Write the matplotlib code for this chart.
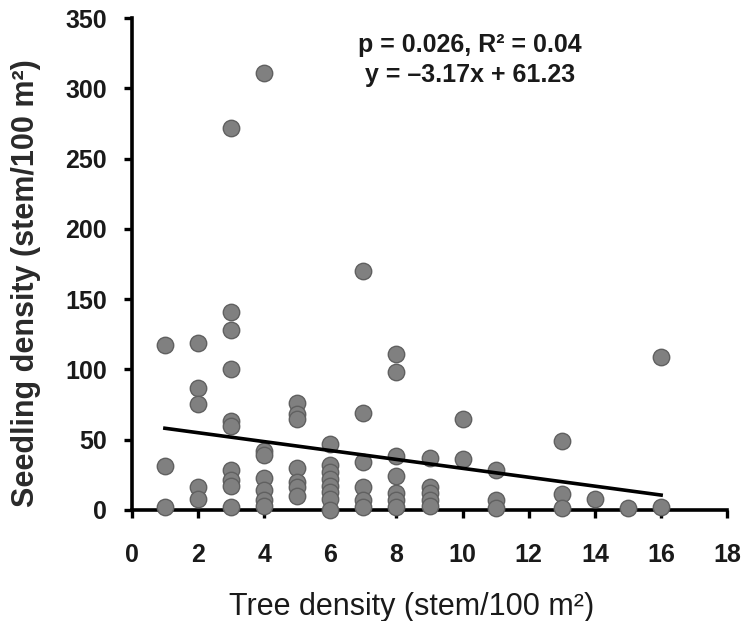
"""Seedling density against tree density, with a linear fit."""

import matplotlib

matplotlib.use("Agg")
import matplotlib.pyplot as plt  # noqa: E402
import numpy as np  # noqa: E402

# tree density (stem/100 m2) and seedling density (stem/100 m2)
tree_density = [
    1, 1, 1,
    2, 2, 2, 2, 2,
    3, 3, 3, 3, 3, 3, 3, 3, 3, 3,
    4, 4, 4, 4, 4, 4, 4,
    5, 5, 5, 5, 5, 5, 5,
    6, 6, 6, 6, 6, 6, 6, 6,
    7, 7, 7, 7, 7, 7,
    8, 8, 8, 8, 8, 8, 8,
    9, 9, 9, 9, 9,
    10, 10,
    11, 11, 11,
    13, 13, 13,
    14,
    15,
    16, 16,
]
seedling_density = [
    117, 31, 2,
    119, 87, 75, 16, 8,
    272, 141, 128, 100, 63, 60, 28, 21, 17, 2,
    311, 42, 39, 23, 14, 7, 3,
    76, 68, 65, 30, 20, 16, 10,
    47, 32, 27, 22, 17, 13, 8, 0,
    170, 69, 34, 16, 7, 2,
    111, 98, 38, 24, 12, 7, 2,
    37, 16, 12, 7, 3,
    65, 36,
    28, 7, 1,
    49, 11, 1,
    8,
    1,
    109, 2,
]

# fitted line as printed on the chart
slope = -3.17
intercept = 61.23
p_value = 0.026
r_squared = 0.04

x_ticks = list(range(0, 19, 2))
y_ticks = list(range(0, 351, 50))


def main() -> None:
    plt.rcParams["font.family"] = ["Liberation Sans", "DejaVu Sans"]

    fig = plt.figure(figsize=(7.49, 6.21), dpi=100)
    ax = fig.add_axes([0.176, 0.179, 0.795, 0.792])

    ax.scatter(
        tree_density,
        seedling_density,
        s=140,
        color="#808080",
        edgecolors="#606060",
        linewidths=1.0,
        zorder=3,
        clip_on=False,
    )

    fit_x = np.array([min(tree_density), max(tree_density)])
    ax.plot(fit_x, slope * fit_x + intercept, color="black", linewidth=2.6, zorder=4)

    ax.text(
        0.568, 0.945,
        f"p = {p_value}, R\u00b2 = {r_squared}",
        transform=ax.transAxes,
        ha="center", va="center",
        fontsize=18, fontweight="bold", color="#1a1a1a",
    )
    ax.text(
        0.568, 0.884,
        f"y = \u2013{abs(slope)}x + {intercept}",
        transform=ax.transAxes,
        ha="center", va="center",
        fontsize=18, fontweight="bold", color="#1a1a1a",
    )

    ax.set_xlim(0, 18)
    ax.set_ylim(0, 350)
    ax.set_xticks(x_ticks)
    ax.set_yticks(y_ticks)
    ax.tick_params(axis="both", labelsize=18, width=2.4, length=6, direction="out",
                   colors="black", labelcolor="#1a1a1a")
    ax.tick_params(axis="x", pad=18)
    ax.tick_params(axis="y", pad=12)
    for label in ax.get_xticklabels() + ax.get_yticklabels():
        label.set_fontweight("bold")

    for side in ("top", "right"):
        ax.spines[side].set_visible(False)
    for side in ("left", "bottom"):
        ax.spines[side].set_linewidth(2.6)

    ax.set_xlabel("Tree density (stem/100 m\u00b2)", fontsize=22, color="#1a1a1a")
    ax.set_ylabel("Seedling density (stem/100 m\u00b2)", fontsize=22, fontweight="bold",
                  color="#2a2a2a")
    ax.yaxis.set_label_coords(-0.152, 0.461)
    ax.xaxis.set_label_coords(0.47, -0.168)

    fig.savefig("out.png", dpi=100)
    plt.close(fig)


if __name__ == "__main__":
    main()
